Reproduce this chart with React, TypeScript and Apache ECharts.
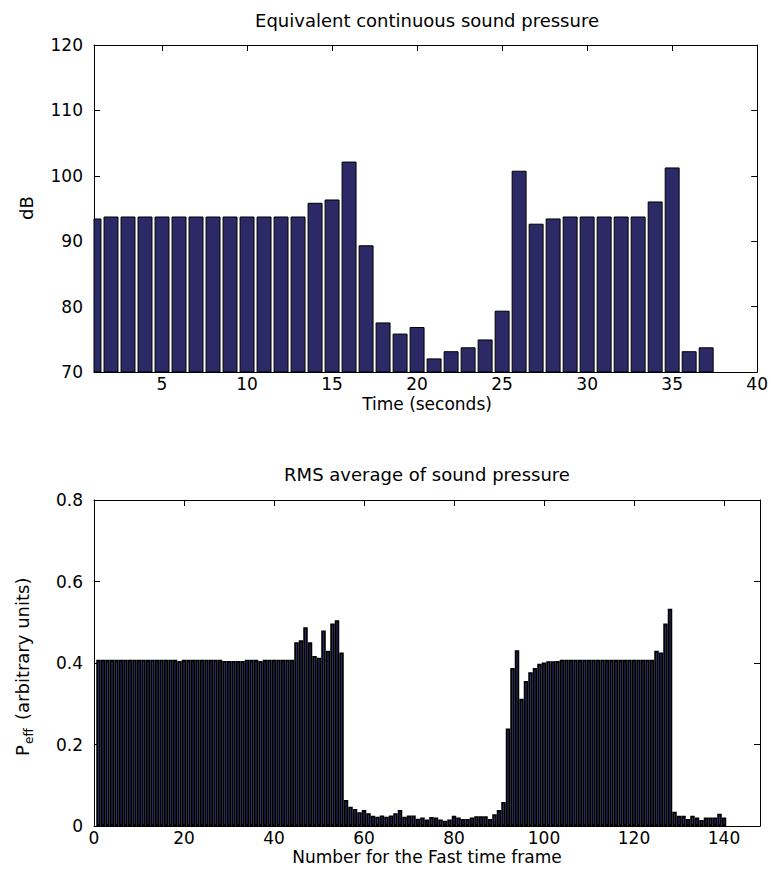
import React, { useEffect, useRef } from 'react';
import * as echarts from 'echarts';

// Top panel: equivalent continuous sound pressure (dB), one bar per second
const leqDb = [
  93.4, 93.7, 93.7, 93.7, 93.7, 93.7, 93.7, 93.7, 93.7, 93.7,
  93.7, 93.7, 93.7, 95.8, 96.3, 102.1, 89.3, 77.5, 75.8, 76.8,
  72.0, 73.1, 73.7, 74.9, 79.3, 100.7, 92.6, 93.4, 93.7, 93.7,
  93.7, 93.7, 93.7, 96.0, 101.2, 73.1, 73.7,
];

// Bottom panel: RMS sound pressure per Fast time frame (arbitrary units)
const rmsPressure = [
  0.408, 0.408, 0.408, 0.408, 0.408, 0.408, 0.408, 0.408, 0.408, 0.408,
  0.408, 0.408, 0.408, 0.408, 0.408, 0.408, 0.408, 0.408, 0.405, 0.408,
  0.408, 0.408, 0.408, 0.408, 0.408, 0.408, 0.408, 0.408, 0.405, 0.405,
  0.405, 0.405, 0.405, 0.408, 0.408, 0.408, 0.405, 0.408, 0.408, 0.408,
  0.408, 0.408, 0.408, 0.408, 0.451, 0.456, 0.488, 0.451, 0.417, 0.413,
  0.480, 0.430, 0.497, 0.505, 0.426, 0.064, 0.047, 0.042, 0.034, 0.039,
  0.031, 0.025, 0.023, 0.026, 0.023, 0.026, 0.031, 0.039, 0.023, 0.026,
  0.026, 0.018, 0.021, 0.016, 0.022, 0.021, 0.016, 0.013, 0.016, 0.025,
  0.021, 0.017, 0.017, 0.021, 0.024, 0.024, 0.024, 0.017, 0.029, 0.039,
  0.059, 0.239, 0.388, 0.431, 0.312, 0.356, 0.377, 0.388, 0.398, 0.401,
  0.404, 0.404, 0.405, 0.408, 0.408, 0.408, 0.408, 0.408, 0.408, 0.408,
  0.408, 0.408, 0.408, 0.408, 0.408, 0.408, 0.408, 0.408, 0.408, 0.408,
  0.408, 0.408, 0.408, 0.408, 0.430, 0.426, 0.497, 0.533, 0.035, 0.025,
  0.025, 0.017, 0.025, 0.021, 0.015, 0.021, 0.021, 0.021, 0.030, 0.021,
];

const topXTicks = [5, 10, 15, 20, 25, 30, 35, 40];
const bottomXTicks = [0, 20, 40, 60, 80, 100, 120, 140];

const topTitle = 'Equivalent continuous sound pressure';
const topXName = 'Time (seconds)';
const topYName = 'dB';
const bottomTitle = 'RMS average of sound pressure';
const bottomXName = 'Number for the Fast time frame';
const bottomYMain = 'P';
const bottomYSub = 'eff';
const bottomYRest = '(arbitrary units)';

const FONT = '"DejaVu Sans", "Liberation Sans", sans-serif';
const BAR = '#2b2966';
const TOP_BASE = 70;
const TOP_HALF_WIDTH = 0.41;

export default function App() {
  const ref = useRef<HTMLDivElement>(null);

  useEffect(() => {
    if (!ref.current) return;
    const chart = echarts.init(ref.current, null, { renderer: 'svg' });

    const axisLine = { show: true, onZero: false, lineStyle: { color: '#000', width: 1 } };
    const tickIn = { show: true, inside: true, length: 6, lineStyle: { color: '#000', width: 1 } };
    const label = { color: '#000', fontFamily: FONT, fontSize: 17 };
    const noSplit = { show: false };

    const textStyle = (size: number) => ({ fill: '#000', fontFamily: FONT, fontSize: size });

    const renderTopBar = (params: any, api: any) => {
      const x = api.value(0);
      const v = api.value(1);
      const p1 = api.coord([x - TOP_HALF_WIDTH, v]);
      const p2 = api.coord([x + TOP_HALF_WIDTH, TOP_BASE]);
      const cs = params.coordSys;
      const shape = echarts.graphic.clipRectByRect(
        { x: p1[0], y: p1[1], width: p2[0] - p1[0], height: p2[1] - p1[1] },
        { x: cs.x, y: cs.y, width: cs.width, height: cs.height }
      );
      if (!shape) return null;
      return {
        type: 'rect',
        shape,
        style: { fill: BAR, stroke: '#000', lineWidth: 1 },
      };
    };

    chart.setOption({
      animation: false,
      backgroundColor: '#fff',
      grid: [
        { left: 94, top: 45, width: 666, height: 327 },
        { left: 94, top: 500, width: 666, height: 326 },
      ],
      xAxis: [
        {
          gridIndex: 0, type: 'value', min: 1, max: 40, position: 'bottom',
          axisLine, splitLine: noSplit,
          axisTick: { ...tickIn, customValues: topXTicks },
          axisLabel: { ...label, margin: 3, customValues: topXTicks },
        },
        {
          gridIndex: 0, type: 'value', min: 1, max: 40, position: 'top',
          axisLine, splitLine: noSplit,
          axisTick: { ...tickIn, customValues: topXTicks },
          axisLabel: { show: false },
        },
        {
          gridIndex: 1, type: 'value', min: 0, max: 148, position: 'bottom',
          axisLine, splitLine: noSplit,
          axisTick: { ...tickIn, customValues: bottomXTicks },
          axisLabel: { ...label, margin: 3, customValues: bottomXTicks },
        },
        {
          gridIndex: 1, type: 'value', min: 0, max: 148, position: 'top',
          axisLine, splitLine: noSplit,
          axisTick: { ...tickIn, customValues: bottomXTicks },
          axisLabel: { show: false },
        },
      ],
      yAxis: [
        {
          gridIndex: 0, type: 'value', min: 70, max: 120, interval: 10, position: 'left',
          axisLine, splitLine: noSplit, axisTick: tickIn,
          axisLabel: { ...label, margin: 11 },
        },
        {
          gridIndex: 0, type: 'value', min: 70, max: 120, interval: 10, position: 'right',
          axisLine, splitLine: noSplit, axisTick: tickIn,
          axisLabel: { show: false },
        },
        {
          gridIndex: 1, type: 'value', min: 0, max: 0.8, interval: 0.2, position: 'left',
          axisLine, splitLine: noSplit, axisTick: tickIn,
          axisLabel: { ...label, margin: 11 },
        },
        {
          gridIndex: 1, type: 'value', min: 0, max: 0.8, interval: 0.2, position: 'right',
          axisLine, splitLine: noSplit, axisTick: tickIn,
          axisLabel: { show: false },
        },
      ],
      series: [
        {
          type: 'custom', xAxisIndex: 0, yAxisIndex: 0,
          renderItem: renderTopBar,
          encode: { x: 0, y: 1 },
          data: leqDb.map((v, i) => [i + 1, v]),
          z: 1,
        },
        {
          type: 'bar', xAxisIndex: 2, yAxisIndex: 2, clip: true,
          barWidth: 4.5,
          data: rmsPressure.map((v, i) => [i + 1, v]),
          itemStyle: { color: BAR, borderColor: '#000', borderWidth: 1.7 },
        },
      ],
      graphic: [
        {
          type: 'text', x: 427, y: 20,
          style: { ...textStyle(18), text: topTitle, align: 'center', verticalAlign: 'middle' },
        },
        {
          type: 'text', x: 427, y: 404,
          style: { ...textStyle(17), text: topXName, align: 'center', verticalAlign: 'middle' },
        },
        {
          type: 'text', x: 26, y: 208, rotation: Math.PI / 2,
          style: { ...textStyle(18), text: topYName, align: 'center', verticalAlign: 'middle' },
        },
        {
          type: 'text', x: 427, y: 474,
          style: { ...textStyle(18), text: bottomTitle, align: 'center', verticalAlign: 'middle' },
        },
        {
          type: 'text', x: 427, y: 857,
          style: { ...textStyle(17), text: bottomXName, align: 'center', verticalAlign: 'middle' },
        },
        {
          type: 'group', x: 22, y: 661, rotation: Math.PI / 2,
          children: [
            {
              type: 'text', x: -95, y: 0,
              style: { ...textStyle(18), text: bottomYMain, align: 'left', verticalAlign: 'middle' },
            },
            {
              type: 'text', x: -83, y: 7,
              style: { ...textStyle(12), text: bottomYSub, align: 'left', verticalAlign: 'middle' },
            },
            {
              type: 'text', x: -59, y: 0,
              style: { ...textStyle(18), text: bottomYRest, align: 'left', verticalAlign: 'middle' },
            },
          ],
        },
      ],
    });

    return () => chart.dispose();
  }, []);

  return (
    <div
      ref={ref}
      style={{ position: 'fixed', left: 0, top: 0, width: 771, height: 888, background: '#fff' }}
    />
  );
}
